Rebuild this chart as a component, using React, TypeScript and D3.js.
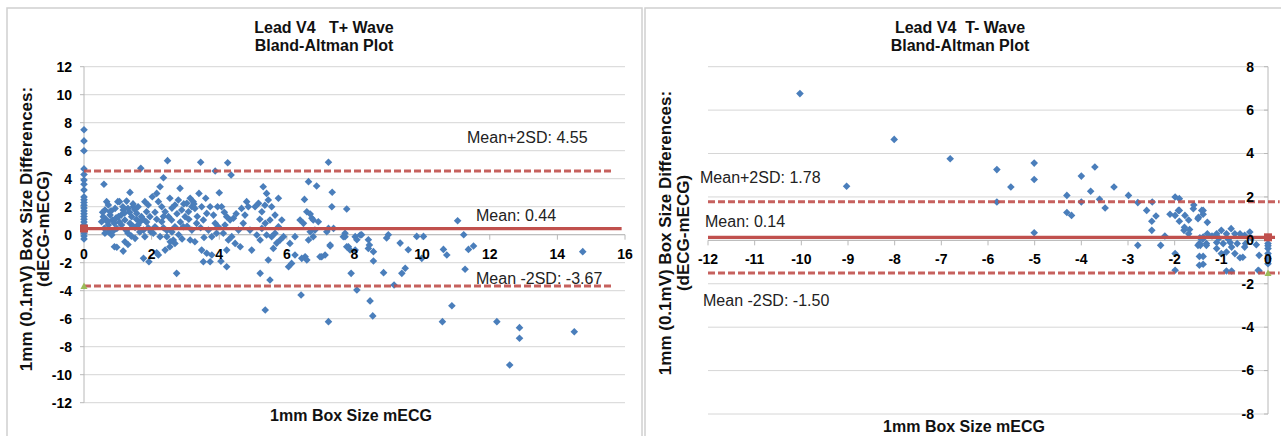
import React from 'react';
import * as d3 from 'd3';

const FONT = '"Liberation Sans", Arial, Helvetica, sans-serif';
const RED = '#c0504d';
const BLUE = '#4a7ebb';
const GRID = '#d6d6d6';
const AXIS = '#b8b8b8';
const OLIVE = '#9bbb59';

// ---------- Left panel (T+ wave) ----------
const leftTitle = ['Lead V4   T+ Wave', 'Bland-Altman Plot'];
const leftXTicks = [0, 2, 4, 6, 8, 10, 12, 14, 16];
const leftYTicks = [-12, -10, -8, -6, -4, -2, 0, 2, 4, 6, 8, 10, 12];
const leftStats = { mean: 0.44, upper: 4.55, lower: -3.67 };
const leftLimitX = [0, 15.6];
const leftMeanX = [0, 15.9];
const leftLabels = ['Mean+2SD: 4.55', 'Mean: 0.44', 'Mean -2SD: -3.67'];
const tPlusPoints: [number, number][] = [
  [0, 7.5], [0, 6.7], [0, 6.0], [0, 4.7], [0, 4.3], [0, 3.9], [0, 3.6], [0, 3.2], [0, 2.7], [0, 2.5], [0, 2.3], [0, 2.1],
  [0, 1.9], [0, 1.7], [0, 1.5], [0, 1.3], [0, 1.1], [0, 0.9], [0, 0.7], [0, 0.5], [0, 0.3], [0, 0.1], [0, -0.1], [0, -0.3],
  [0.59, 3.6], [0.67, 2.36], [0.72, 2.12], [0.62, 1.76], [0.57, 1.29], [0.52, 0.93], [0.67, 1.05], [0.72, 0.69], [0.6, 0.45],
  [0.72, 0.21], [0.82, -0.02], [0.9, -0.86], [0.97, -0.9], [0.77, 1.4], [0.84, 1.05], [0.92, 1.88], [0.9, 0.81], [0.97, 0.45],
  [1.0, 2.36], [0.8, 1.7], [0.95, 1.2], [0.55, 1.6], [0.88, 0.3], [0.77, 1.64], [1.02, 1.29], [0.62, 0.1], [0.7, 0.9],
  [1.05, 2.36], [1.26, 2.4], [1.36, 3.02], [1.16, 1.76], [1.3, 1.88], [1.46, 2.0], [1.6, 2.0], [1.56, 1.52], [1.41, 1.29],
  [1.21, 1.05], [1.11, 0.69], [1.36, 0.81], [1.51, 0.52], [1.66, 0.93], [1.76, 0.33], [1.8, -0.14], [1.51, -0.26], [1.21, -0.5],
  [1.16, -1.17], [1.76, -1.69], [1.92, -1.93], [1.7, 1.29], [1.85, 1.64], [1.9, 2.12], [1.8, 2.36], [1.95, 1.29], [1.68, 4.74],
  [1.1, 1.4], [1.25, 0.3], [1.45, 0.6], [1.55, 1.1], [1.65, 0.2], [1.35, 1.6], [1.05, 0.9], [1.4, -0.1], [1.9, 0.5], [1.85, 0.9],
  [1.15, 2.0], [1.5, 1.8], [1.3, 0.1], [1.6, 0.7], [1.75, 1.1], [1.2, 1.55], [1.45, 2.2], [1.98, 0.2], [1.3, -0.7],
  [2.02, 2.71], [2.15, 2.95], [2.25, 3.43], [2.35, 4.07], [2.47, 5.29], [2.2, 2.36], [2.3, 2.0], [2.4, 1.64], [2.54, 2.6],
  [2.5, 1.29], [2.69, 2.12], [2.84, 3.31], [2.79, 2.48], [2.89, 1.76], [2.59, 1.05], [2.3, 0.93], [2.1, 0.57], [2.05, 0.1],
  [2.25, -0.14], [2.45, -0.14], [2.64, -0.38], [2.69, -0.62], [2.54, -0.86], [2.4, -1.1], [2.2, -1.45], [2.15, -1.29],
  [2.74, -2.76], [2.94, 0.57], [2.99, 1.29], [2.69, 0.57], [2.6, 1.9], [2.75, 1.5], [2.35, 0.5], [2.85, 0.9], [2.55, -0.5],
  [2.95, 2.2], [2.1, 1.6], [2.15, 1.1], [2.45, 0.3], [2.6, 0.2], [2.8, 0.0], [2.9, -0.3], [2.35, 1.3],
  [3.04, 2.24], [3.14, 2.6], [3.23, 2.36], [3.19, 2.0], [3.09, 1.64], [3.28, 1.88], [3.4, 2.95], [3.45, 5.17], [3.48, 2.0],
  [3.63, 1.52], [3.73, 2.0], [3.53, 1.05], [3.33, 0.81], [3.19, 0.33], [3.14, -0.38], [3.28, -0.5], [3.48, -1.1], [3.63, -1.33],
  [3.53, -1.93], [3.73, -1.93], [3.78, -1.45], [3.88, 4.55], [3.88, 0.81], [3.97, 0.57], [3.92, 0.1], [3.78, -0.14], [3.68, 0.33],
  [3.83, 1.4], [3.35, 1.3], [3.6, 2.6], [3.1, 1.1], [3.45, 0.5], [3.95, 2.0], [3.25, 2.2], [3.05, 0.6], [3.55, -0.2],
  [4.0, 3.0], [4.07, 2.0], [4.22, 1.29], [4.25, 5.14], [4.35, 4.26], [4.32, 1.05], [4.17, 0.69], [4.42, 1.17], [4.12, 0.1],
  [4.27, -0.38], [4.22, -1.1], [4.22, -2.29], [4.47, -0.62], [4.62, -0.86], [4.71, 0.81], [4.66, 1.88], [4.81, 2.36], [4.86, 2.0],
  [4.76, 1.4], [4.91, 0.33], [4.57, 0.33], [4.96, -1.1], [4.37, -0.14], [4.05, -1.9], [4.5, 1.5], [4.15, 1.6],
  [5.06, 2.0], [5.16, 2.24], [5.26, 1.64], [5.3, 3.43], [5.4, 2.95], [5.45, 2.48], [5.55, 2.0], [5.65, 1.4], [5.5, 1.05],
  [5.36, 0.81], [5.26, 0.45], [5.11, -0.02], [5.21, -0.38], [5.4, -0.02], [5.55, -0.14], [5.65, 0.1], [5.75, 0.57], [5.85, 1.05],
  [5.8, -0.38], [5.6, -0.98], [5.45, -1.81], [5.21, -2.76], [5.5, -3.24], [5.36, -5.38], [5.75, 2.6], [5.9, -0.14], [5.2, 1.1],
  [5.7, -0.6], [5.35, 2.1],
  [6.05, -2.29], [6.14, -2.05], [6.24, -1.45], [6.09, -0.62], [6.24, -0.14], [6.39, 1.05], [6.49, 0.81], [6.52, 2.52],
  [6.64, 3.79], [6.74, 1.17], [6.69, 0.21], [6.78, -0.14], [6.64, -0.38], [6.54, -1.57], [6.44, -1.69], [6.42, -4.31],
  [6.83, 0.33], [6.88, 3.48], [6.93, 0.93], [6.59, 1.64], [6.69, 1.48], [6.78, 1.05], [6.59, -1.81], [6.98, -1.57],
  [7.13, -1.45], [7.03, -1.57], [7.23, 5.17], [7.34, 3.03], [7.33, 2.0], [7.23, 0.45], [7.28, -0.74], [7.23, -6.21], [7.77, 1.84],
  [7.72, -0.14], [7.82, -0.86], [7.9, -2.76], [8.07, -3.95], [8.02, -0.14], [8.17, -0.02], [7.38, 0.45], [7.18, 0.21], [7.72, 0.1],
  [8.21, 0.0], [8.07, -0.36], [8.41, -0.36], [7.67, -0.14], [7.87, -1.09], [8.02, -1.1], [8.41, -0.98], [8.56, -1.21],
  [7.28, -0.81], [7.77, -0.86], [8.46, -4.73], [8.54, -5.8], [8.56, -1.88], [8.44, -0.74],
  [8.86, -2.71], [9.17, -3.59], [9.4, -2.76], [9.5, -2.4], [9.0, 0.0], [8.95, -0.24], [9.35, -0.6], [9.84, -0.12], [10.04, -0.12],
  [9.59, -1.07], [9.99, -1.69], [10.63, -1.05], [10.73, -1.45], [11.05, 1.0], [11.23, 0.0], [11.37, -1.05], [11.52, -0.81],
  [14.75, -1.21], [10.88, -5.07], [10.6, -6.21], [11.27, -2.47], [12.21, -6.21], [12.59, -9.31], [12.88, -6.64], [12.88, -7.4],
  [14.5, -6.93],
];

// ---------- Right panel (T- wave) ----------
const rightTitle = ['Lead V4  T- Wave', 'Bland-Altman Plot'];
const rightXTicks = [-12, -11, -10, -9, -8, -7, -6, -5, -4, -3, -2, -1, 0];
const rightYTicks = [-8, -6, -4, -2, 0, 2, 4, 6, 8];
const rightStats = { mean: 0.14, upper: 1.78, lower: -1.5 };
const rightLimitX = [-12, 0.25];
const rightMeanX = [-12, 0.15];
const rightLabels = ['Mean+2SD: 1.78', 'Mean: 0.14', 'Mean -2SD: -1.50'];
const tMinusPoints: [number, number][] = [
  [-10.03, 6.76], [-9.03, 2.49], [-8.01, 4.65], [-6.81, 3.76], [-5.81, 3.26], [-5.81, 1.77], [-5.51, 2.46], [-5.01, 3.56],
  [-5.01, 2.8], [-5.01, 0.35], [-4.31, 2.07], [-4.31, 1.28], [-4.21, 1.15], [-4.0, 2.96], [-4.0, 1.77], [-3.8, 2.26],
  [-3.71, 3.38], [-3.61, 1.89], [-3.49, 1.49], [-3.3, 2.46], [-2.99, 2.07], [-2.79, 1.74], [-2.79, -0.23], [-2.6, 1.38],
  [-2.49, 0.88], [-2.49, 0.46], [-2.4, 1.12], [-2.48, 1.77], [-2.3, -0.23], [-2.21, 0.2], [-1.99, 2.0], [-1.9, 1.92],
  [-1.99, 1.15], [-1.9, 0.88], [-1.9, 1.38], [-1.78, 1.15], [-1.8, 0.46], [-1.7, 0.3], [-1.6, 1.46], [-1.5, 1.0], [-1.39, 1.38],
  [-1.39, 1.2], [-1.3, 0.83], [-1.3, 0.3], [-1.39, 0.15], [-1.47, -0.15], [-1.45, -0.23], [-1.32, -0.15], [-1.1, 0.3],
  [-1.0, 0.46], [-0.89, 0.3], [-0.79, 0.54], [-0.71, 0.3], [-0.6, 0.3], [-0.5, 0.23], [-1.1, -0.1], [-0.96, -0.15],
  [-0.81, -0.1], [-0.66, -0.15], [-0.48, -0.15], [-0.39, 0.38], [0, -0.15], [0, -0.38], [0, -0.61], [0, -0.84], [0, -1.08],
  [-1.99, -0.61], [-1.99, -1.38], [-1.5, -0.23], [-1.39, -0.74], [-1.39, -1.1], [-1.32, -0.23], [-1.1, -0.38], [-1.0, -0.61],
  [-0.89, -0.54], [-0.78, -0.31], [-0.89, -1.41], [-0.78, -1.41], [-0.71, -0.61], [-0.6, -0.8], [-0.5, -0.31], [-0.19, -0.69],
  [-0.19, -1.41], [-2.1, 1.2], [-1.92, 1.38], [-1.7, 0.94], [-1.79, 0.6], [-1.68, 0.5], [-1.59, 1.63], [-1.42, 1.38],
  [-1.49, 1.06], [-1.46, 0.12], [-1.4, 0.05], [-1.47, -0.74], [-1.47, -1.15], [-0.54, -0.78], [-0.21, -1.38], [0, 0.1],
  [0, -0.25], [-1.2, 0.2], [-1.05, 0.1], [-0.85, 0.05], [-0.35, 0.1], [-0.25, -0.2],
];

const diamond = 'M0,-3.8L3.8,0L0,3.8L-3.8,0Z';
const triangle = 'M0,-3.5L3.5,3L-3.5,3Z';

type PanelProps = {
  frame: [number, number, number, number];
  titleX: number;
  titles: string[];
  xDomain: [number, number];
  xRange: [number, number];
  yDomain: [number, number];
  yRange: [number, number];
  xTicks: number[];
  yTicks: number[];
  yAxisAt: number;
  yLabelX: number;
  points: [number, number][];
  stats: { mean: number; upper: number; lower: number };
  limitX: number[];
  meanX: number[];
  labels: string[];
  labelPos: [number, number][];
  xTitleX: number;
  yTitleX: [number, number];
  yTitleY: number;
};

function Panel(p: PanelProps) {
  const sx = d3.scaleLinear().domain(p.xDomain).range(p.xRange);
  const sy = d3.scaleLinear().domain(p.yDomain).range(p.yRange);
  const line = d3.line<[number, number]>().x((d) => sx(d[0])).y((d) => sy(d[1]));
  const y0 = sy(0);
  const ax = sx(p.yAxisAt);
  const [fx, fy, fw, fh] = p.frame;
  const [gx0, gx1] = [Math.min(...p.xRange), Math.max(...p.xRange)];
  return (
    <g>
      <rect x={fx} y={fy} width={fw} height={fh} fill="#fff" stroke="#d0d0d0" strokeWidth={1.5} />
      {p.yTicks.map((t) => (
        <line key={'g' + t} x1={gx0} x2={gx1} y1={sy(t)} y2={sy(t)} stroke={GRID} strokeWidth={1} />
      ))}
      <line x1={ax} x2={ax} y1={sy(p.yDomain[1])} y2={sy(p.yDomain[0])} stroke={AXIS} strokeWidth={1} />
      {p.yTicks.map((t) => (
        <line key={'yt' + t} x1={ax - 4} x2={ax} y1={sy(t)} y2={sy(t)} stroke={AXIS} />
      ))}
      <line x1={gx0} x2={gx1} y1={y0} y2={y0} stroke={AXIS} strokeWidth={1} />
      {p.xTicks.map((t) => (
        <line key={'xt' + t} x1={sx(t)} x2={sx(t)} y1={y0} y2={y0 + 5} stroke={AXIS} />
      ))}
      {p.points.map((d, i) => (
        <path key={'p' + i} d={diamond} transform={`translate(${sx(d[0])},${sy(d[1])})`} fill={BLUE} />
      ))}
      <path d={line(p.limitX.map((x) => [x, p.stats.upper]) as [number, number][]) || ''} stroke={RED} strokeWidth={3} strokeDasharray="7,3" fill="none" opacity={0.9} />
      <path d={line(p.limitX.map((x) => [x, p.stats.lower]) as [number, number][]) || ''} stroke={RED} strokeWidth={3} strokeDasharray="7,3" fill="none" opacity={0.9} />
      <path d={line(p.meanX.map((x) => [x, p.stats.mean]) as [number, number][]) || ''} stroke={RED} strokeWidth={3.2} fill="none" />
      <rect x={sx(p.yAxisAt) - 4} y={sy(p.stats.mean) - 4} width={8} height={8} fill={RED} />
      <path d={triangle} transform={`translate(${sx(p.yAxisAt)},${sy(p.stats.lower)})`} fill={OLIVE} />
      {p.xTicks.map((t) => (
        <text key={'xl' + t} x={sx(t)} y={y0 + 24} textAnchor="middle" fontSize={14} fontWeight="bold" fontFamily={FONT} fill="#000">
          {t}
        </text>
      ))}
      {p.yTicks.map((t) => (
        <text key={'yl' + t} x={p.yLabelX} y={sy(t)} dy="0.35em" textAnchor="end" fontSize={14} fontWeight="bold" fontFamily={FONT} fill="#000">
          {t}
        </text>
      ))}
      {p.labels.map((s, i) => (
        <text key={'lab' + i} x={p.labelPos[i][0]} y={p.labelPos[i][1]} fontSize={16} fontFamily={FONT} fill="#222">
          {s}
        </text>
      ))}
      {p.titles.map((s, i) => (
        <text key={'t' + i} x={p.titleX} y={33 + i * 18} textAnchor="middle" fontSize={16} fontWeight="bold" fontFamily={FONT} fill="#111" style={{ whiteSpace: 'pre' }}>
          {s}
        </text>
      ))}
      <text x={p.xTitleX} y={p.yRange[0] + 18} textAnchor="middle" fontSize={16} fontWeight="bold" fontFamily={FONT} fill="#111">
        1mm Box Size mECG
      </text>
      <text transform={`translate(${p.yTitleX[0]},${p.yTitleY}) rotate(-90)`} textAnchor="middle" fontSize={17} fontWeight="bold" fontFamily={FONT} fill="#111">
        1mm (0.1mV) Box Size Differences:
      </text>
      <text transform={`translate(${p.yTitleX[1]},${p.yTitleY}) rotate(-90)`} textAnchor="middle" fontSize={17} fontWeight="bold" fontFamily={FONT} fill="#111">
        (dECG-mECG)
      </text>
    </g>
  );
}

export default function App() {
  return (
    <svg width={1281} height={436} style={{ position: 'absolute', left: 0, top: 0, background: '#fff' }}>
      <rect x={0} y={0} width={1281} height={436} fill="#fff" />
      <Panel
        frame={[7, 8, 635, 440]}
        titleX={324}
        titles={leftTitle}
        xDomain={[0, 16]}
        xRange={[84, 625]}
        yDomain={[-12, 12]}
        yRange={[402.7, 66.7]}
        xTicks={leftXTicks}
        yTicks={leftYTicks}
        yAxisAt={0}
        yLabelX={72}
        points={tPlusPoints}
        stats={leftStats}
        limitX={leftLimitX}
        meanX={leftMeanX}
        labels={leftLabels}
        labelPos={[[467, 143], [476, 221], [476, 284]]}
        xTitleX={351}
        yTitleX={[32, 49]}
        yTitleY={229}
      />
      <Panel
        frame={[645, 8, 660, 440]}
        titleX={960}
        titles={rightTitle}
        xDomain={[-12, 0]}
        xRange={[708, 1268]}
        yDomain={[-8, 8]}
        yRange={[414, 66.7]}
        xTicks={rightXTicks}
        yTicks={rightYTicks}
        yAxisAt={0}
        yLabelX={1254}
        points={tMinusPoints}
        stats={rightStats}
        limitX={rightLimitX}
        meanX={rightMeanX}
        labels={rightLabels}
        labelPos={[[700, 183], [705, 227], [703, 306]]}
        xTitleX={964}
        yTitleX={[671, 689]}
        yTitleY={233}
      />
    </svg>
  );
}
